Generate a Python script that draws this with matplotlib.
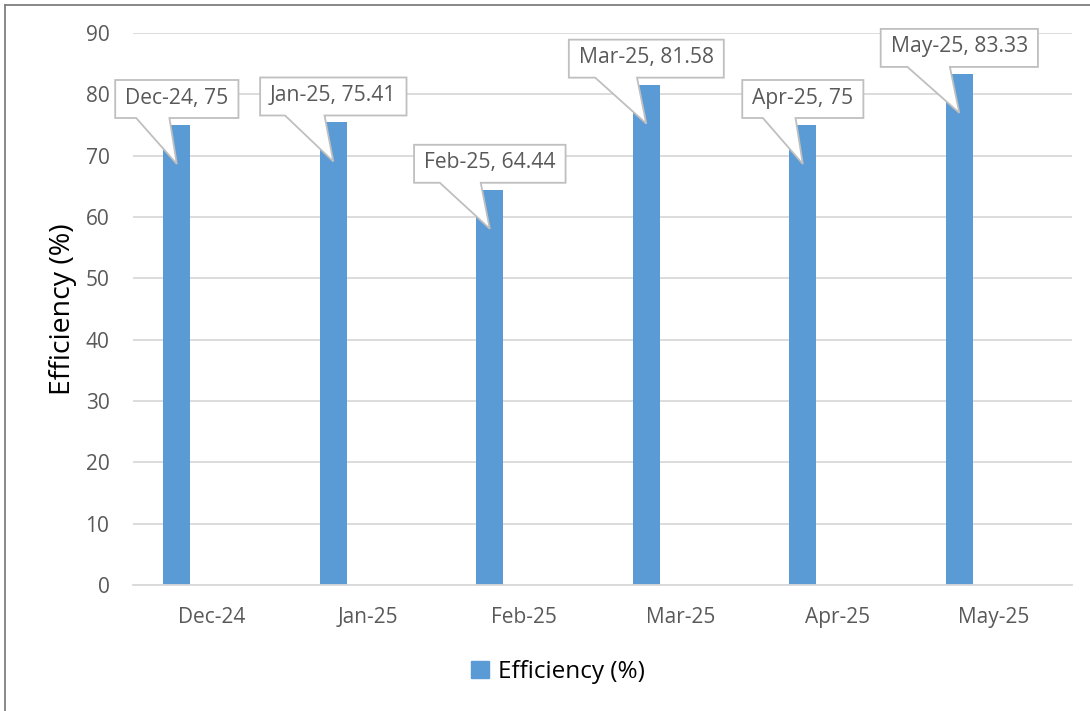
import matplotlib
matplotlib.use("Agg")
import matplotlib.pyplot as plt
from matplotlib.patches import Polygon
from matplotlib.transforms import IdentityTransform
from matplotlib.lines import Line2D
from matplotlib.patches import Patch

plt.rcParams['font.family'] = ['Open Sans', 'DejaVu Sans']

categories = ["Dec-24", "Jan-25", "Feb-25", "Mar-25", "Apr-25", "May-25"]
values = [75, 75.41, 64.44, 81.58, 75, 83.33]
value_labels = ["75", "75.41", "64.44", "81.58", "75", "83.33"]
series_name = "Efficiency (%)"
yticks = [0, 10, 20, 30, 40, 50, 60, 70, 80, 90]

BAR = "#5b9bd5"
GRID = "#d9d9d9"
TXT = "#595959"

W, H = 1090, 711
fig = plt.figure(figsize=(W / 100, H / 100), dpi=100)
ax = fig.add_axes([133 / W, (H - 585) / H, (1072 - 133) / W, (585 - 33) / H])

x = list(range(len(categories)))
xb = [i - 0.22 for i in x]
ax.bar(xb, values, width=0.1725, color=BAR, zorder=2)

ax.set_xlim(-0.5, len(categories) - 0.5)
ax.set_ylim(0, 90)
ax.set_yticks(yticks)
ax.set_yticklabels([str(t) for t in yticks])
ax.set_xticks(x)
ax.set_xticklabels(categories)
ax.tick_params(axis='both', length=0, labelsize=15, colors=TXT)
ax.tick_params(axis='y', pad=17)
ax.tick_params(axis='x', pad=16)
ax.grid(axis='y', color=GRID, linewidth=1.3, zorder=0)
ax.set_axisbelow(True)
for s in ['top', 'right', 'left']:
    ax.spines[s].set_visible(False)
ax.spines['bottom'].set_color(GRID)
ax.spines['bottom'].set_linewidth(1.3)
ax.set_ylabel(series_name, fontsize=20.5, color='black', labelpad=6)

# callouts
renderer = fig.canvas.get_renderer()
for xi, v, cat, lab in zip(xb, values, categories, value_labels):
    cx, ty = ax.transData.transform((xi, v))
    text = f"{cat}, {lab}"
    B = ty + 7
    T = B + 38
    t = ax.text(cx, (B + T) / 2 + 1, text, transform=IdentityTransform(),
                ha='center', va='center', fontsize=15.2, color=TXT, zorder=6)
    bb = t.get_window_extent(renderer=renderer)
    w = bb.width + 20
    L = cx - w / 2
    R = cx + w / 2
    verts = [(L, B), (L + 0.17 * w, B), (cx, ty - 39), (L + 0.44 * w, B),
             (R, B), (R, T), (L, T)]
    poly = Polygon(verts, closed=True, facecolor='white', edgecolor='#bfbfbf',
                   linewidth=1.3, transform=IdentityTransform(), zorder=5,
                   clip_on=False)
    ax.add_patch(poly)

# legend
handles = [Patch(facecolor=BAR, edgecolor=BAR, label=series_name)]
leg = fig.legend(handles=handles, loc='center', bbox_to_anchor=(558 / W, 1 - 672 / H),
                 frameon=False, fontsize=17.5, handlelength=0.75, handleheight=0.75,
                 handletextpad=0.35)

# chart border lines (left and top)
fig.add_artist(Line2D([5 / W, 5 / W], [0, 1 - 5 / H], transform=fig.transFigure,
                      color='#7f7f7f', linewidth=1.3))
fig.add_artist(Line2D([5 / W, 1], [1 - 5 / H, 1 - 5 / H], transform=fig.transFigure,
                      color='#7f7f7f', linewidth=1.3))

fig.savefig("out.png", dpi=100)
